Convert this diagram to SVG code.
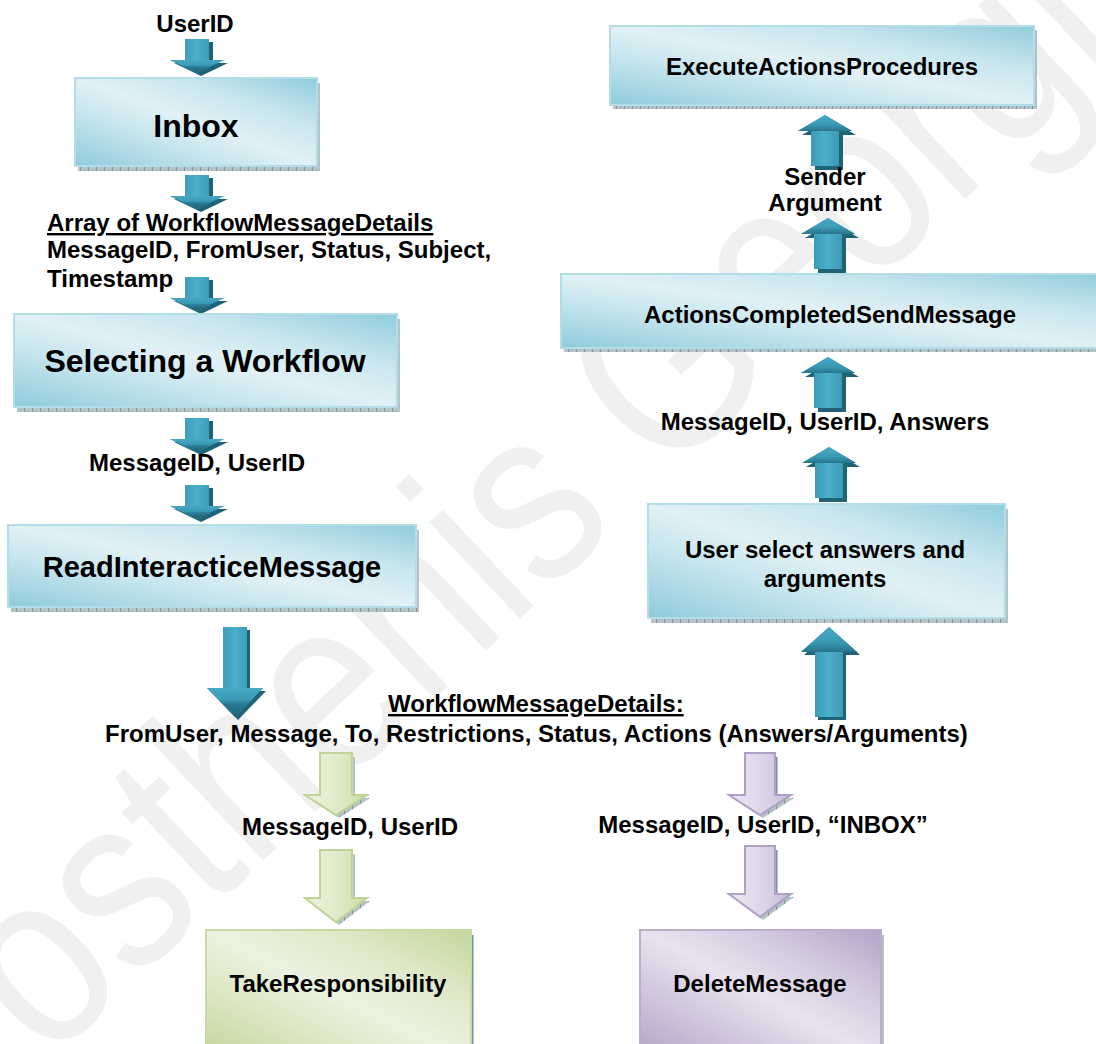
<svg xmlns="http://www.w3.org/2000/svg" width="1096" height="1044" viewBox="0 0 1096 1044">
  <style>
    text { font-family: "Liberation Sans", Arial, sans-serif; font-weight: bold; fill: #000; }
    .lbl { font-size: 24px; }
    .big { font-size: 32px; }
    .c { text-anchor: middle; }
    .u { text-decoration: underline; }
    .box-blue { fill: url(#gBlue); stroke: #b3dde8; stroke-width: 2; }
    .box-green { fill: url(#gGreen); stroke: #c9dba5; stroke-width: 2; }
    .box-purple { fill: url(#gPurple); stroke: #bcadcf; stroke-width: 2; }
    .shadow { fill: url(#ticks); }
    .arr-shadow { fill: #1f6377; }
    .arr-body { fill: url(#blueH); }
    .green-arr { fill: url(#greenH); stroke: #bfd496; stroke-width: 2; }
    .purple-arr { fill: url(#purpleH); stroke: #b09fc6; stroke-width: 2; }
    .wm { font-size: 250px; font-weight: normal; fill: #f0f0f0; }
  </style>
  <defs>
    <linearGradient id="gBlue" x1="0" y1="1" x2="1" y2="0">
      <stop offset="0" stop-color="#8fcbdb"/>
      <stop offset="0.3" stop-color="#c4e4ed"/>
      <stop offset="0.5" stop-color="#e1f1f6"/>
      <stop offset="0.72" stop-color="#c9e6ee"/>
      <stop offset="1" stop-color="#90ccdb"/>
    </linearGradient>
    <linearGradient id="gGreen" x1="0" y1="1" x2="1" y2="0">
      <stop offset="0" stop-color="#c2d59a"/>
      <stop offset="0.3" stop-color="#dde8c6"/>
      <stop offset="0.5" stop-color="#ecf2e0"/>
      <stop offset="0.72" stop-color="#dfe9c9"/>
      <stop offset="1" stop-color="#c3d69b"/>
    </linearGradient>
    <linearGradient id="gPurple" x1="0" y1="1" x2="1" y2="0">
      <stop offset="0" stop-color="#b3a2c7"/>
      <stop offset="0.3" stop-color="#d3c9df"/>
      <stop offset="0.5" stop-color="#e8e3ef"/>
      <stop offset="0.72" stop-color="#d5cce0"/>
      <stop offset="1" stop-color="#b4a3c8"/>
    </linearGradient>
    <linearGradient id="blueH" x1="0" y1="0" x2="1" y2="0">
      <stop offset="0" stop-color="#2c86a0"/>
      <stop offset="0.5" stop-color="#4cafca"/>
      <stop offset="1" stop-color="#2c86a0"/>
    </linearGradient>
    <linearGradient id="blueHeadD" x1="0" y1="0" x2="0" y2="1">
      <stop offset="0" stop-color="#47a8c3"/>
      <stop offset="0.4" stop-color="#3b9ab5"/>
      <stop offset="0.55" stop-color="#2a7a92"/>
      <stop offset="1" stop-color="#1f6175"/>
    </linearGradient>
    <linearGradient id="blueHeadU" x1="0" y1="0" x2="0" y2="1">
      <stop offset="0" stop-color="#4aabc6"/>
      <stop offset="0.6" stop-color="#3b99b4"/>
      <stop offset="1" stop-color="#27748b"/>
    </linearGradient>
    <linearGradient id="greenH" x1="0" y1="0" x2="1" y2="0">
      <stop offset="0" stop-color="#eef4e2"/>
      <stop offset="0.6" stop-color="#dde9c4"/>
      <stop offset="1" stop-color="#c8dba0"/>
    </linearGradient>
    <linearGradient id="purpleH" x1="0" y1="0" x2="1" y2="0">
      <stop offset="0" stop-color="#ede9f3"/>
      <stop offset="0.6" stop-color="#dbd3e6"/>
      <stop offset="1" stop-color="#c5b8d7"/>
    </linearGradient>
    <pattern id="ticks" width="8" height="8" patternUnits="userSpaceOnUse">
      <rect width="8" height="8" fill="#b3c3c7"/>
      <rect width="1" height="8" fill="#7f9398"/>
      <rect x="4" y="2" width="1" height="1" fill="#90a3a8"/>
    </pattern>

    <!-- small teal arrow pointing down, origin at top centre of shaft -->
    <g id="aDownS">
      <path class="arr-shadow" d="M-8,3 H16 V24 H31 L4,37 L-23,24 H-8 Z"/>
      <path class="arr-body" d="M-12,0 H12 V21 H27 L0,34 L-27,21 H-12 Z"/>
      <path d="M-27,21 H27 L0,34 Z" fill="url(#blueHeadD)"/>
    </g>
    <!-- small teal arrow pointing up, origin at the tip -->
    <g id="aUpS">
      <path class="arr-shadow" d="M4,4 L31,20 H18 V55 H-10 V20 H-23 Z"/>
      <path class="arr-body" d="M0,0 L27,16 H14 V51 H-14 V16 H-27 Z"/>
      <path d="M0,0 L27,16 H-27 Z" fill="url(#blueHeadU)"/>
    </g>
    <!-- long teal arrow pointing down -->
    <g id="aDownL">
      <path class="arr-shadow" d="M-9,3 H15 V64 H31 L3,93 L-25,64 H-9 Z"/>
      <path class="arr-body" d="M-12,0 H12 V61 H28 L0,90 L-28,61 H-12 Z"/>
      <path d="M-28,61 H28 L0,90 Z" fill="url(#blueHeadD)"/>
    </g>
    <!-- long teal arrow pointing up -->
    <g id="aUpL">
      <path class="arr-shadow" d="M3,3 L31,28 H17 V93 H-11 V28 H-25 Z"/>
      <path class="arr-body" d="M0,0 L28,25 H14 V90 H-14 V25 H-28 Z"/>
      <path d="M0,0 L28,25 H-28 Z" fill="url(#blueHeadU)"/>
    </g>
  </defs>

  <rect width="1096" height="1044" fill="#ffffff"/>

  <!-- faint diagonal watermark -->
  <text class="wm" transform="translate(47,1064) rotate(-43.3)" textLength="1600" lengthAdjust="spacingAndGlyphs">osthenis Georgia</text>

  <!-- connectors -->
  <g id="connectors">
    <use href="#aDownS" x="197" y="39"/>
    <use href="#aDownS" x="197" y="175"/>
    <use href="#aDownS" x="197" y="277"/>
    <use href="#aDownS" x="197" y="418"/>
    <use href="#aDownS" x="197" y="485"/>
    <use href="#aDownL" x="235" y="627"/>
    <use href="#aUpL" x="829" y="627"/>
    <use href="#aUpS" x="829" y="447"/>
    <use href="#aUpS" x="828" y="357"/>
    <use href="#aUpS" x="828" y="218"/>
    <use href="#aUpS" x="825" y="115"/>

    <g id="green-arrows">
      <path class="shadow" d="M323,757 H355 V798 H370 L339,818 L308,798 H323 Z"/>
      <path class="green-arr" d="M320,753 H352 V795 H367 L336,815 L305,795 H320 Z"/>
      <path class="shadow" d="M323,854 H355 V901 H370 L339,925 L308,901 H323 Z"/>
      <path class="green-arr" d="M320,850 H352 V898 H367 L336,922 L305,898 H320 Z"/>
    </g>
    <g id="purple-arrows">
      <path class="shadow" d="M748,757 H778 V798 H794 L763,818 L732,798 H748 Z"/>
      <path class="purple-arr" d="M745,753 H775 V795 H791 L760,815 L729,795 H745 Z"/>
      <path class="shadow" d="M748,850 H778 V897 H794 L763,920 L732,897 H748 Z"/>
      <path class="purple-arr" d="M745,846 H775 V894 H791 L760,917 L729,894 H745 Z"/>
    </g>
  </g>

  <!-- labels carried by the connectors -->
  <g id="labels">
    <text class="lbl c" x="195" y="32">UserID</text>
    <text class="lbl u" x="47" y="231">Array of WorkflowMessageDetails</text>
    <text class="lbl" x="47" y="258">MessageID, FromUser, Status, Subject,</text>
    <text class="lbl" x="47" y="287">Timestamp</text>
    <text class="lbl c" x="197" y="471">MessageID, UserID</text>
    <text class="lbl u" x="388" y="712">WorkflowMessageDetails:</text>
    <text class="lbl" x="105" y="742">FromUser, Message, To, Restrictions, Status, Actions (Answers/Arguments)</text>
    <text class="lbl c" x="350" y="835">MessageID, UserID</text>
    <text class="lbl c" x="763" y="833">MessageID, UserID, “INBOX”</text>
    <text class="lbl c" x="825" y="430">MessageID, UserID, Answers</text>
    <text class="lbl c" x="825" y="185">Sender</text>
    <text class="lbl c" x="825" y="211">Argument</text>
  </g>

  <!-- process nodes -->
  <g id="node-inbox">
    <rect class="shadow" x="78" y="83" width="242" height="88"/>
    <rect class="box-blue" x="75" y="78" width="242" height="88"/>
    <text class="big c" x="196" y="137">Inbox</text>
  </g>
  <g id="node-selecting-workflow">
    <rect class="shadow" x="17" y="319" width="383" height="93"/>
    <rect class="box-blue" x="14" y="314" width="383" height="93"/>
    <text class="big c" x="205" y="372">Selecting a Workflow</text>
  </g>
  <g id="node-read-interactice-message">
    <rect class="shadow" x="11" y="530" width="408" height="82"/>
    <rect class="box-blue" x="8" y="525" width="408" height="82"/>
    <text class="c" x="212" y="577" font-size="29">ReadInteracticeMessage</text>
  </g>
  <g id="node-execute-actions">
    <rect class="shadow" x="613" y="30" width="424" height="79"/>
    <rect class="box-blue" x="610" y="26" width="424" height="79"/>
    <text class="lbl c" x="822" y="75">ExecuteActionsProcedures</text>
  </g>
  <g id="node-actions-completed">
    <rect class="shadow" x="564" y="278" width="545" height="74"/>
    <rect class="box-blue" x="561" y="274" width="545" height="74"/>
    <text class="lbl c" x="830" y="323">ActionsCompletedSendMessage</text>
  </g>
  <g id="node-user-select">
    <rect class="shadow" x="651" y="509" width="357" height="114"/>
    <rect class="box-blue" x="648" y="504" width="357" height="114"/>
    <text class="lbl c" x="825" y="558">User select answers and</text>
    <text class="lbl c" x="825" y="587">arguments</text>
  </g>
  <g id="node-take-responsibility">
    <rect class="shadow" x="209" y="935" width="265" height="130"/>
    <rect class="box-green" x="206" y="930" width="265" height="130"/>
    <text class="lbl c" x="338" y="992">TakeResponsibility</text>
  </g>
  <g id="node-delete-message">
    <rect class="shadow" x="643" y="935" width="241" height="130"/>
    <rect class="box-purple" x="640" y="930" width="241" height="130"/>
    <text class="lbl c" x="760" y="992">DeleteMessage</text>
  </g>
</svg>
